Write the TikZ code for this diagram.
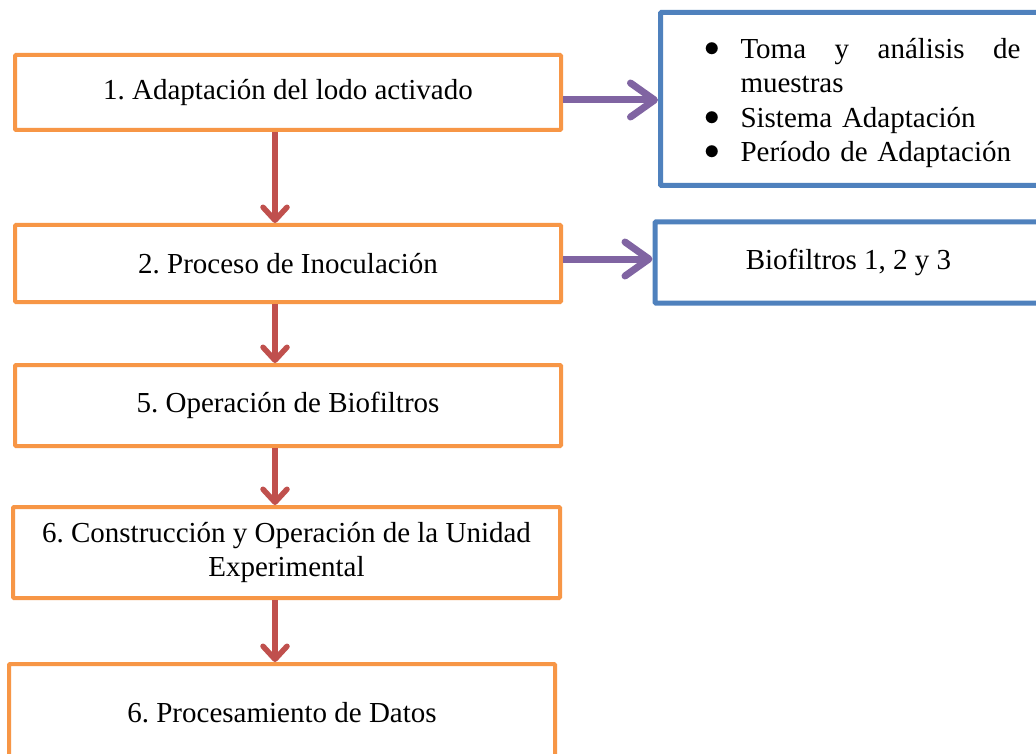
\documentclass[tikz,border=0pt]{standalone}
\usepackage{fontspec}
\setmainfont{Liberation Serif}
\usetikzlibrary{arrows.meta}
\definecolor{borange}{HTML}{F79646}
\definecolor{bblue}{HTML}{4F81BD}
\definecolor{ared}{HTML}{C0504D}
\definecolor{apurple}{HTML}{8064A2}
\frenchspacing
\newcommand{\blt}{\makebox[36pt][l]{\hspace*{0pt}\raisebox{2pt}{\scalebox{1.25}{$\bullet$}}}}
\tikzset{
  stepbox/.style={draw=borange, line width=4pt, rounded corners=1pt, fill=white,
    inner sep=0pt, align=center, font=\fontsize{29}{34}\selectfont},
  infobox/.style={draw=bblue, line width=5pt, rounded corners=1pt, fill=white,
    font=\fontsize{29}{34.3}\selectfont},
  downarrow/.style={draw=ared, line width=5.5pt,
    -{Straight Barb[length=13pt,width=24pt,round]}},
  sidearrow/.style={draw=apurple, line width=7pt,
    -{Straight Barb[length=24pt,width=34pt,round]}}
}
\begin{document}
\begin{tikzpicture}[x=1pt,y=-1pt]
\useasboundingbox (0,0) rectangle (1036,754);
\clip (0,0) rectangle (1036,754);
\fill[white] (0,0) rectangle (1036,754);

% orange step boxes
\node[stepbox, minimum width=546pt, minimum height=75pt] (b1) at (288,92.5) {1. Adaptación del lodo activado};
\node[stepbox, minimum width=546pt, minimum height=77pt] (b2) at (288,263.5) {2. Proceso de Inoculación};
\node[stepbox, minimum width=546pt, minimum height=81pt] (b3) at (288,405.5) {5. Operación de Biofiltros};
\node[stepbox, minimum width=547pt, minimum height=91pt] (b4) at (286.5,552.5) {6. Construcción y Operación de la Unidad\\Experimental};
\node[stepbox, minimum width=546pt, minimum height=98pt] (b5) at (282,713) {6. Procesamiento de Datos};

% blue info boxes
\node[infobox, anchor=north west, text width=330pt, inner xsep=44pt, inner ysep=0pt,
      minimum height=173pt, align=left] (c1) at (658,10)
  {\rule{0pt}{28pt}\blt\makebox[280pt][l]{Toma\hfill y\hfill análisis\hfill de}\\
   \hspace*{36pt}muestras\\
   \blt Sistema Adaptación\\
   \blt Período de Adaptación};
\node[infobox, minimum width=387pt, minimum height=81pt, inner sep=0pt] (c2) at (848.5,262.5) {Biofiltros 1, 2 y 3};

% connector helpers
\coordinate (xr) at (275,0);
\coordinate (y1) at (0,100);
\coordinate (y2) at (0,259);

% red down arrows
\draw[downarrow] (b1.south -| xr) -- (b2.north -| xr);
\draw[downarrow] (b2.south -| xr) -- (b3.north -| xr);
\draw[downarrow] (b3.south -| xr) -- (b4.north -| xr);
\draw[downarrow] (b4.south -| xr) -- (b5.north -| xr);

% purple side arrows
\draw[sidearrow] (b1.east |- y1) -- (c1.west |- y1);
\draw[sidearrow] (b2.east |- y2) -- (c2.west |- y2);
\end{tikzpicture}
\end{document}
